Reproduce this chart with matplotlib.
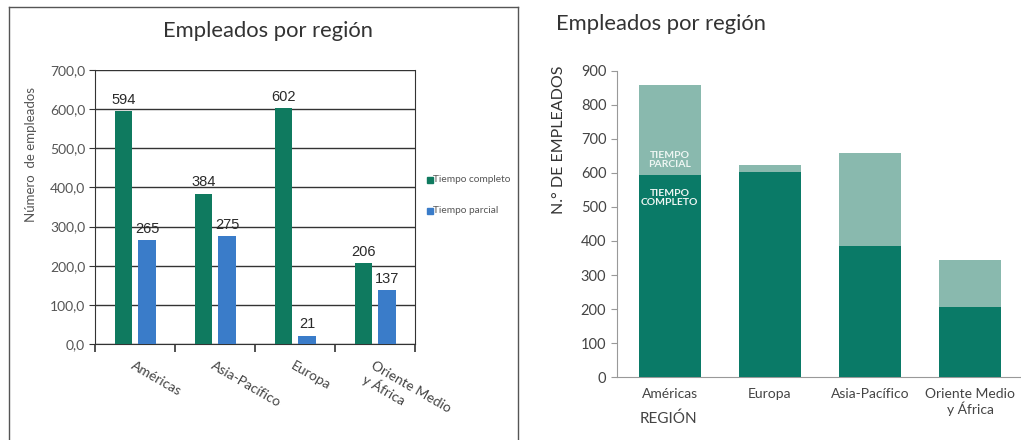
import numpy as np
import matplotlib
matplotlib.use("Agg")
import matplotlib.pyplot as plt
from matplotlib.lines import Line2D
from matplotlib.patches import Rectangle

# datos
regiones_izq = ["Américas", "Asia-Pacífico", "Europa", "Oriente Medio\ny África"]
completo_izq = [594, 384, 602, 206]
parcial_izq = [265, 275, 21, 137]

regiones_der = ["Américas", "Europa", "Asia-Pacífico", "Oriente Medio\ny África"]
completo_der = [594, 602, 384, 206]
parcial_der = [265, 21, 275, 137]

plt.rcParams['font.family'] = ['Lato', 'DejaVu Sans']

fig = plt.figure(figsize=(10.21, 4.40), dpi=100)

# marco del gráfico izquierdo
for xs, ys in [([0.009, 0.009], [0.0, 0.984]), ([0.009, 0.507], [0.984, 0.984]),
               ([0.507, 0.507], [0.984, 0.0])]:
    fig.add_artist(Line2D(xs, ys, color="#555555", lw=1.0))

# ---------- gráfico izquierdo ----------
ax1 = fig.add_axes([0.093, 0.218, 0.3134, 0.623])
x = np.arange(len(regiones_izq))
w = 0.22
verde = "#0f7a5f"
azul = "#3a7cc9"
b1 = ax1.bar(x - 0.145, completo_izq, w, color=verde, zorder=3)
b2 = ax1.bar(x + 0.15, parcial_izq, w, color=azul, zorder=3)
for rect, v in zip(list(b1) + list(b2), completo_izq + parcial_izq):
    ax1.text(rect.get_x() + rect.get_width() / 2, v + 12, str(v), ha="center", va="bottom",
             fontsize=10.5, color="#2a2a2a", family="Liberation Sans")

ax1.set_xlim(-0.5, 3.5)
ax1.set_ylim(0, 700)
ax1.set_yticks(np.arange(0, 701, 100))
ax1.set_yticklabels([f"{v:.1f}".replace(".", ",") for v in np.arange(0, 701, 100)],
                    fontsize=10, color="#555555")
ax1.yaxis.grid(True, color="#333333", lw=1.0, zorder=1)
ax1.set_xticks(np.arange(-0.5, 3.6, 1))
ax1.set_xticklabels([])
ax1.tick_params(axis="x", length=6, width=1.2, color="#333333")
ax1.tick_params(axis="y", length=4, color="#333333", pad=3)
for s in ["left", "right", "bottom"]:
    ax1.spines[s].set_color("#333333")
ax1.spines["top"].set_visible(False)
ax1.set_ylabel("Número  de empleados", fontsize=9.5, color="#555555")
ax1.yaxis.set_label_coords(-0.18, 0.69)
fig.text(0.262, 0.93, "Empleados por región", fontsize=15.8, color="#333333",
         ha="center", va="center")
for i, lab in enumerate(regiones_izq):
    ax1.text(i, -0.055, lab, transform=ax1.get_xaxis_transform(), rotation=-30,
             rotation_mode="anchor", ha="left", va="top", fontsize=10, color="#444444")

# leyenda
fig.add_artist(Rectangle((0.4185, 0.585), 0.0055, 0.0135, color=verde))
fig.text(0.4245, 0.5915, "Tiempo completo", fontsize=7.3, color="#555555", va="center")
fig.add_artist(Rectangle((0.4185, 0.514), 0.0055, 0.0135, color=azul))
fig.text(0.4245, 0.5205, "Tiempo parcial", fontsize=7.3, color="#555555", va="center")

# ---------- gráfico derecho ----------
ax2 = fig.add_axes([0.604, 0.143, 0.395, 0.696])
x2 = np.arange(len(regiones_der))
oscuro = "#0a7a67"
claro = "#89b9ae"
ax2.bar(x2, completo_der, 0.62, color=oscuro, zorder=3)
ax2.bar(x2, parcial_der, 0.62, bottom=completo_der, color=claro, zorder=3)
ax2.set_xlim(-0.53, 3.5)
ax2.set_ylim(0, 900)
ax2.set_yticks(np.arange(0, 901, 100))
ax2.tick_params(axis="y", labelsize=10.5, labelcolor="#444444", length=4, color="#999999")
ax2.set_xticks(x2)
ax2.set_xticklabels(regiones_der, fontsize=10, color="#444444", linespacing=1.1)
ax2.tick_params(axis="x", length=0, pad=8)
for s in ["top", "right"]:
    ax2.spines[s].set_visible(False)
ax2.spines["left"].set_color("#999999")
ax2.spines["bottom"].set_color("#999999")
ax2.set_ylabel("N.° DE EMPLEADOS", fontsize=11.5, color="#333333")
ax2.yaxis.set_label_coords(-0.125, 0.775)
ax2.text(-0.3, -0.135, "REGIÓN", transform=ax2.get_xaxis_transform(), fontsize=11,
         color="#444444", ha="left", va="center")
fig.text(0.545, 0.945, "Empleados por región", fontsize=15.8, color="#333333", ha="left", va="center")

ax2.text(x2[0], completo_der[0] + parcial_der[0] * 0.17, "TIEMPO\nPARCIAL", ha="center",
         va="center", fontsize=7.5, color="#eef6f3", fontweight="bold", linespacing=1.0, zorder=4)
ax2.text(x2[0], completo_der[0] - 68, "TIEMPO\nCOMPLETO", ha="center",
         va="center", fontsize=7.5, color="#eef6f3", fontweight="bold", linespacing=1.0, zorder=4)

fig.savefig("out.png", dpi=100)
